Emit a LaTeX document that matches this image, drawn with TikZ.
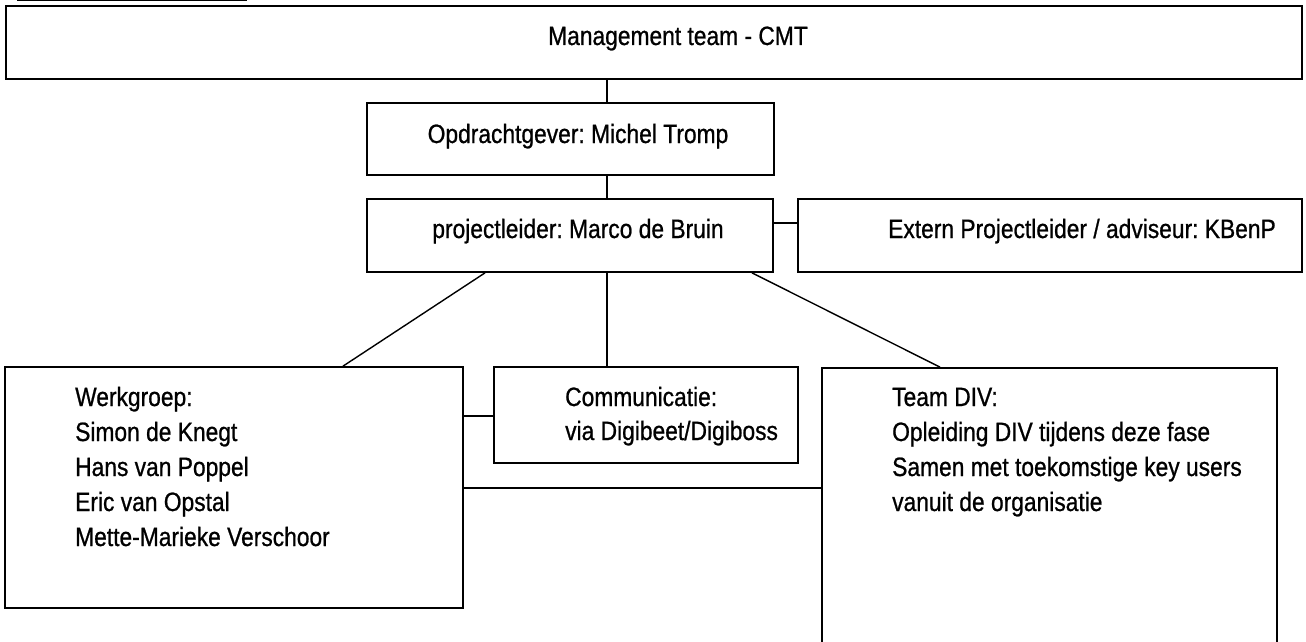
\documentclass[tikz,border=0pt]{standalone}
\usepackage{fontspec}
\setmainfont{Liberation Sans}[FakeStretch=0.86,FakeBold=0.8]
\frenchspacing
\begin{document}
\begin{tikzpicture}[x=1pt,y=-1pt,
  box/.style={draw=black,line width=1.7pt,rectangle,inner sep=0pt,anchor=center},
  conn/.style={draw=black,line width=1.4pt},
  txt/.style={inner sep=0pt,font=\fontsize{26.5}{35}\selectfont}]
\useasboundingbox (0,0) rectangle (1306,642);
% boxes
\node[box,minimum width=1296pt,minimum height=73pt] (top) at (654,42.5) {};
\node[box,minimum width=407pt,minimum height=72pt] (opd) at (570.5,139) {};
\node[box,minimum width=406pt,minimum height=73pt] (pl) at (570,235.5) {};
\node[box,minimum width=504pt,minimum height=73pt] (ext) at (1050,235.5) {};
\node[box,minimum width=458pt,minimum height=241pt] (wg) at (234,487.5) {};
\node[box,minimum width=304pt,minimum height=96pt] (com) at (646,415) {};
\node[box,minimum width=455pt,minimum height=300pt] (div) at (1049.5,518) {};
% connector helper coordinates
\coordinate (cx) at (607,0);
\coordinate (lx) at (752,0);
\coordinate (dx) at (940,0);
\coordinate (wx) at (485,0);
\coordinate (wx2) at (343,0);
\coordinate (ly) at (0,223);
\coordinate (my) at (0,416);
\coordinate (ny) at (0,488);
\coordinate (h1) at (17,0.8);
\coordinate (h2) at (247,0.8);
% connectors
\draw[conn] (h1) -- (h2);
\draw[conn] (top.south -| cx) -- (opd.north -| cx);
\draw[conn] (opd.south -| cx) -- (pl.north -| cx);
\draw[conn] (pl.east |- ly) -- (ext.west |- ly);
\draw[conn] (pl.south -| wx) -- (wg.north -| wx2);
\draw[conn] (pl.south -| cx) -- (com.north -| cx);
\draw[conn] (pl.south -| lx) -- (div.north -| dx);
\draw[conn] (wg.east |- my) -- (com.west |- my);
\draw[conn] (wg.east |- ny) -- (div.west |- ny);
% texts
\node[txt,anchor=base] (t1) at (678,45) {Management team - CMT};
\node[txt,anchor=base] (t2) at (578,143) {Opdrachtgever: Michel Tromp};
\node[txt,anchor=base] (t3) at (578,238) {projectleider: Marco de Bruin};
\node[txt,anchor=base west] (t4) at (888,238) {Extern Projectleider / adviseur: KBenP};
\node[txt,anchor=base west] (w1) at (75,406) {Werkgroep:};
\node[txt,anchor=base west] (w2) at (75,441) {Simon de Knegt};
\node[txt,anchor=base west] (w3) at (75,476) {Hans van Poppel};
\node[txt,anchor=base west] (w4) at (75,511) {Eric van Opstal};
\node[txt,anchor=base west] (w5) at (75,546) {Mette-Marieke Verschoor};
\node[txt,anchor=base west] (c1) at (565,406) {Communicatie:};
\node[txt,anchor=base west] (c2) at (565,440) {via Digibeet/Digiboss};
\node[txt,anchor=base west] (d1) at (892,406) {Team DIV:};
\node[txt,anchor=base west] (d2) at (892,441) {Opleiding DIV tijdens deze fase};
\node[txt,anchor=base west] (d3) at (892,476) {Samen met toekomstige key users};
\node[txt,anchor=base west] (d4) at (892,511) {vanuit de organisatie};
\end{tikzpicture}
\end{document}
